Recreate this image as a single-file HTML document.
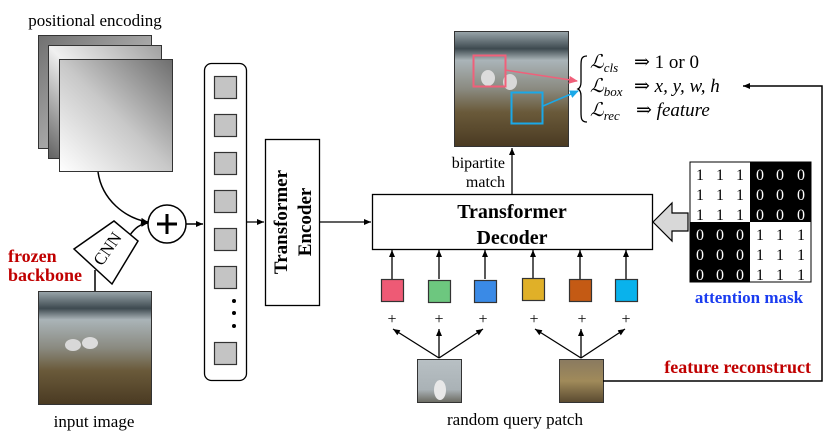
<!DOCTYPE html>
<html><head><meta charset="utf-8"><style>
body{margin:0;background:#fff}
svg{display:block}
</style></head><body>
<svg width="830" height="436" viewBox="0 0 830 436" xmlns="http://www.w3.org/2000/svg" font-family="'Liberation Serif', 'DejaVu Serif', serif">
<defs>
<linearGradient id="pe1" x1="0" y1="0" x2="1" y2="1"><stop offset="0" stop-color="#707070"/><stop offset="1" stop-color="#d8d8d8"/></linearGradient>
<linearGradient id="pe2" x1="0" y1="1" x2="1" y2="0"><stop offset="0" stop-color="#606060"/><stop offset="0.5" stop-color="#f0f0f0"/><stop offset="1" stop-color="#a0a0a0"/></linearGradient>
<linearGradient id="pe3" x1="0" y1="1" x2="1" y2="0"><stop offset="0" stop-color="#ffffff"/><stop offset="0.5" stop-color="#c8c8c8"/><stop offset="1" stop-color="#6e6e6e"/></linearGradient>
<linearGradient id="photo" x1="0" y1="0" x2="0" y2="1"><stop offset="0" stop-color="#9aa6ab"/><stop offset="0.15" stop-color="#3e4a50"/><stop offset="0.25" stop-color="#aab4b8"/><stop offset="0.5" stop-color="#8a8a80"/><stop offset="0.7" stop-color="#6a5a3a"/><stop offset="1" stop-color="#4a3a22"/></linearGradient>
<linearGradient id="patch2" x1="0" y1="0" x2="0" y2="1"><stop offset="0" stop-color="#8a7a60"/><stop offset="0.5" stop-color="#a08a5a"/><stop offset="1" stop-color="#5a4a30"/></linearGradient>
<linearGradient id="patch1" x1="0" y1="0" x2="0" y2="1"><stop offset="0" stop-color="#b8c0c4"/><stop offset="0.7" stop-color="#aab2b6"/><stop offset="1" stop-color="#6a6a60"/></linearGradient>
<marker id="ah" markerWidth="8" markerHeight="8" refX="7" refY="4" orient="auto" markerUnits="userSpaceOnUse"><path d="M0,1 L7,4 L0,7 Z" fill="#000"/></marker>
<marker id="ahp" markerWidth="10" markerHeight="10" refX="8" refY="5" orient="auto" markerUnits="userSpaceOnUse"><path d="M0,1 L9,5 L0,9 Z" fill="#f0607a"/></marker>
<marker id="ahb" markerWidth="10" markerHeight="10" refX="8" refY="5" orient="auto" markerUnits="userSpaceOnUse"><path d="M0,1 L9,5 L0,9 Z" fill="#1aa8e8"/></marker>
</defs>

<text x="95" y="26" font-size="17" text-anchor="middle">positional encoding</text>
<rect x="38.5" y="35.5" width="113" height="113" fill="url(#pe1)" stroke="#333"/>
<rect x="48.5" y="45.5" width="113" height="113" fill="url(#pe2)" stroke="#333"/>
<rect x="59.5" y="59.5" width="113" height="112" fill="url(#pe3)" stroke="#333"/>

<path d="M98,172 C102,200 125,218 148,222" fill="none" stroke="#000" stroke-width="1.5" marker-end="url(#ah)"/>
<path d="M95,291 L95,270" fill="none" stroke="#000" stroke-width="1.5"/>
<path d="M130,235 C135,228 140,224 148,223" fill="none" stroke="#000" stroke-width="1.5" marker-end="url(#ah)"/>
<polygon points="74,249 114,221 138,241 112,284" fill="#fff" stroke="#000" stroke-width="1.5"/>
<text x="0" y="0" font-size="17" text-anchor="middle" transform="translate(112,252) rotate(-55)">CNN</text>
<circle cx="167" cy="224" r="19" fill="#fff" stroke="#000" stroke-width="1.5"/>
<path d="M157,224 H177 M167,214 V234" stroke="#000" stroke-width="3"/>
<line x1="186" y1="224" x2="203" y2="224" stroke="#000" stroke-width="1.5" marker-end="url(#ah)"/>

<text x="8" y="262" font-size="18" font-weight="bold" fill="#c00000">frozen</text>
<text x="8" y="281" font-size="18" font-weight="bold" fill="#c00000">backbone</text>
<rect x="38.5" y="291.5" width="113" height="113" fill="url(#photo)" stroke="#333"/>
<ellipse cx="73" cy="345" rx="8" ry="6" fill="#d8d8d8"/><ellipse cx="90" cy="343" rx="8" ry="6" fill="#dcdcdc"/>
<text x="94" y="427" font-size="17" text-anchor="middle">input image</text>

<rect x="204.5" y="63.5" width="42" height="317" rx="7" fill="#fff" stroke="#000" stroke-width="1.3"/>
<g fill="#c4c4c4" stroke="#333" stroke-width="1.2">
<rect x="214.5" y="76.5" width="22" height="22"/><rect x="214.5" y="114.5" width="22" height="22"/>
<rect x="214.5" y="152.5" width="22" height="22"/><rect x="214.5" y="190.5" width="22" height="22"/>
<rect x="214.5" y="228.5" width="22" height="22"/><rect x="214.5" y="266.5" width="22" height="22"/>
<rect x="214.5" y="342.5" width="22" height="22"/></g>
<circle cx="234" cy="301" r="2" fill="#000"/><circle cx="234" cy="313" r="2" fill="#000"/><circle cx="234" cy="326" r="2" fill="#000"/>
<line x1="246" y1="222" x2="264" y2="222" stroke="#000" stroke-width="1.3" marker-end="url(#ah)"/>

<rect x="265.5" y="139.5" width="54" height="166" fill="#fff" stroke="#000" stroke-width="1.3"/>
<text transform="translate(292,222) rotate(-90)" font-size="19" font-weight="bold" text-anchor="middle"><tspan x="0" y="-5">Transformer</tspan><tspan x="0" y="19">Encoder</tspan></text>
<line x1="319" y1="222" x2="371" y2="222" stroke="#000" stroke-width="1.3" marker-end="url(#ah)"/>

<rect x="372.5" y="194.5" width="280" height="55" fill="#fff" stroke="#000" stroke-width="1.3"/>
<text x="512" y="218" font-size="20" font-weight="bold" text-anchor="middle">Transformer</text>
<text x="512" y="244" font-size="20" font-weight="bold" text-anchor="middle">Decoder</text>

<line x1="512" y1="194" x2="512" y2="148" stroke="#000" stroke-width="1.3" marker-end="url(#ah)"/>
<text x="505" y="168" font-size="16" text-anchor="end">bipartite</text>
<text x="505" y="187" font-size="16" text-anchor="end">match</text>

<rect x="454.5" y="31.5" width="114" height="115" fill="url(#photo)" stroke="#333"/>
<ellipse cx="488" cy="78" rx="7" ry="8" fill="#dcdcdc"/><ellipse cx="510" cy="82" rx="7" ry="8" fill="#d8d8d8"/>
<rect x="473.5" y="55.5" width="32" height="31" fill="none" stroke="#f0607a" stroke-width="2"/>
<rect x="511.5" y="92.5" width="31" height="31" fill="none" stroke="#1aa8e8" stroke-width="2"/>
<line x1="505" y1="70" x2="577" y2="81" stroke="#f0607a" stroke-width="1.5" marker-end="url(#ahp)"/>
<line x1="543" y1="106" x2="578" y2="91" stroke="#1aa8e8" stroke-width="1.5" marker-end="url(#ahb)"/>

<path d="M587,56 C581,56 581,60 581,66 L581,82 C581,86 580,88 578,89 C580,90 581,92 581,96 L581,112 C581,118 581,122 587,122" fill="none" stroke="#000" stroke-width="1.3"/>
<g font-size="19">
<text x="590" y="68"><tspan font-style="italic">ℒ</tspan><tspan font-size="13" font-style="italic" dy="4">cls</tspan><tspan dy="-4" x="634">⇒ 1 or 0</tspan></text>
<text x="590" y="92"><tspan font-style="italic">ℒ</tspan><tspan font-size="13" font-style="italic" dy="4">box</tspan><tspan dy="-4" x="634">⇒ </tspan><tspan font-style="italic">x, y, w, h</tspan></text>
<text x="590" y="116"><tspan font-style="italic">ℒ</tspan><tspan font-size="13" font-style="italic" dy="4">rec</tspan><tspan dy="-4" x="636">⇒ </tspan><tspan font-style="italic">feature</tspan></text>
</g>

<polygon points="653,222 672,203 672,213 688,213 688,231 672,231 672,241" fill="#d8d8d8" stroke="#000" stroke-width="1.2"/>
<rect x="690" y="162" width="121" height="120" fill="#fff" stroke="#000"/>
<rect x="750" y="162" width="61" height="60" fill="#000"/>
<rect x="690" y="222" width="60" height="60" fill="#000"/>
<g font-size="16" text-anchor="middle">
<g fill="#000"><text x="700" y="180">1</text><text x="720" y="180">1</text><text x="740" y="180">1</text>
<text x="700" y="200">1</text><text x="720" y="200">1</text><text x="740" y="200">1</text>
<text x="700" y="220">1</text><text x="720" y="220">1</text><text x="740" y="220">1</text>
<text x="760" y="240">1</text><text x="780" y="240">1</text><text x="801" y="240">1</text>
<text x="760" y="260">1</text><text x="780" y="260">1</text><text x="801" y="260">1</text>
<text x="760" y="280">1</text><text x="780" y="280">1</text><text x="801" y="280">1</text></g>
<g fill="#fff"><text x="760" y="180">0</text><text x="780" y="180">0</text><text x="801" y="180">0</text>
<text x="760" y="200">0</text><text x="780" y="200">0</text><text x="801" y="200">0</text>
<text x="760" y="220">0</text><text x="780" y="220">0</text><text x="801" y="220">0</text>
<text x="700" y="240">0</text><text x="720" y="240">0</text><text x="740" y="240">0</text>
<text x="700" y="260">0</text><text x="720" y="260">0</text><text x="740" y="260">0</text>
<text x="700" y="280">0</text><text x="720" y="280">0</text><text x="740" y="280">0</text></g>
</g>
<text x="749" y="303" font-size="17" font-weight="bold" fill="#1a3cf0" text-anchor="middle">attention mask</text>

<g stroke="#000" stroke-width="1.3">
<line x1="392" y1="279" x2="392" y2="250" marker-end="url(#ah)"/>
<line x1="439" y1="279" x2="439" y2="250" marker-end="url(#ah)"/>
<line x1="485" y1="279" x2="485" y2="250" marker-end="url(#ah)"/>
<line x1="533" y1="279" x2="533" y2="250" marker-end="url(#ah)"/>
<line x1="580" y1="279" x2="580" y2="250" marker-end="url(#ah)"/>
<line x1="626" y1="279" x2="626" y2="250" marker-end="url(#ah)"/>
</g>
<g stroke="#333" stroke-width="1.2">
<rect x="381.5" y="279.5" width="22" height="22" fill="#ee5a75"/>
<rect x="428.5" y="280.5" width="22" height="22" fill="#6dc77f"/>
<rect x="474.5" y="280.5" width="22" height="22" fill="#3a8ae6"/>
<rect x="522.5" y="278.5" width="22" height="22" fill="#e0b028"/>
<rect x="569.5" y="279.5" width="22" height="22" fill="#c45a14"/>
<rect x="615.5" y="279.5" width="22" height="22" fill="#09b2ec"/>
</g>
<g font-size="16" text-anchor="middle">
<text x="392" y="324">+</text><text x="439" y="324">+</text><text x="483" y="324">+</text>
<text x="534" y="324">+</text><text x="582" y="324">+</text><text x="626" y="324">+</text></g>
<g stroke="#000" stroke-width="1.3">
<line x1="439" y1="358" x2="393" y2="329" marker-end="url(#ah)"/>
<line x1="439" y1="358" x2="439" y2="329" marker-end="url(#ah)"/>
<line x1="439" y1="358" x2="483" y2="329" marker-end="url(#ah)"/>
<line x1="581" y1="358" x2="535" y2="329" marker-end="url(#ah)"/>
<line x1="581" y1="358" x2="581" y2="329" marker-end="url(#ah)"/>
<line x1="581" y1="358" x2="625" y2="329" marker-end="url(#ah)"/>
</g>
<rect x="417.5" y="359.5" width="44" height="43" fill="url(#patch1)" stroke="#333"/>
<ellipse cx="440" cy="390" rx="6" ry="10" fill="#e8e8e8"/>
<rect x="559.5" y="359.5" width="44" height="43" fill="url(#patch2)" stroke="#333"/>
<text x="515" y="425" font-size="17" text-anchor="middle">random query patch</text>

<path d="M603,381 H822 V86 H743" fill="none" stroke="#000" stroke-width="1.5" marker-end="url(#ah)"/>
<text x="811" y="373" font-size="18" font-weight="bold" fill="#c00000" text-anchor="end">feature reconstruct</text>
</svg>
</body></html>
